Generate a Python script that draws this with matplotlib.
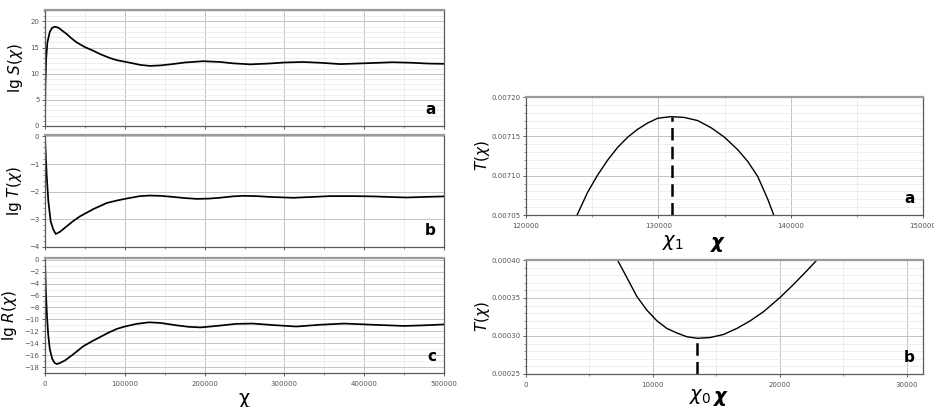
import numpy as np
import matplotlib.pyplot as plt
from matplotlib.ticker import MultipleLocator, FormatStrFormatter

# ---- data ----
chi_s = [0, 500, 1500, 3000, 6000, 9000, 12500, 17000, 22000, 27200, 33000, 39700,
         50000, 60500, 70000, 81500, 90000, 100000, 110000, 119000, 131600, 145000,
         160000, 175000, 198000, 220000, 235000, 257000, 280000, 300000, 323000,
         345000, 370000, 400000, 436000, 460000, 480000, 500000]
lg_s = [0, 8, 13, 16, 18.0, 18.8, 19.0, 18.8, 18.2, 17.6, 16.8, 16.0,
        15.1, 14.4, 13.7, 13.0, 12.6, 12.3, 12.0, 11.7, 11.5, 11.6,
        11.85, 12.15, 12.4, 12.25, 12.0, 11.8, 11.95, 12.15, 12.25,
        12.1, 11.85, 12.0, 12.2, 12.1, 11.95, 11.9]

chi_t = [0, 1000, 2100, 4200, 7100, 10400, 13500, 18800, 27200, 35000, 43900, 60500,
         77300, 90000, 100000, 119000, 131000, 145000, 160800, 175000, 190000, 205000,
         219000, 235000, 248500, 265000, 282000, 311000, 335000, 357000, 385000,
         411000, 430000, 453000, 475000, 500000]
lg_t = [0, -0.7, -1.4, -2.35, -3.07, -3.37, -3.53, -3.45, -3.25, -3.07, -2.89, -2.63,
        -2.41, -2.32, -2.26, -2.16, -2.14, -2.15, -2.19, -2.23, -2.26, -2.25,
        -2.22, -2.17, -2.15, -2.16, -2.19, -2.22, -2.19, -2.16, -2.16,
        -2.17, -2.19, -2.21, -2.19, -2.17]

chi_r = [0, 1000, 2500, 4000, 6000, 9000, 12000, 15000, 19000, 25000, 35000, 48000,
         60000, 70000, 80000, 90000, 100000, 115000, 130000, 145000, 165000, 180000,
         195000, 215000, 240000, 260000, 285000, 315000, 345000, 375000, 410000,
         450000, 475000, 500000]
lg_r = [0, -5, -9.5, -12.5, -15, -16.6, -17.3, -17.5, -17.3, -16.9, -15.9, -14.5,
        -13.6, -12.9, -12.2, -11.6, -11.2, -10.75, -10.5, -10.6, -11.0, -11.25,
        -11.35, -11.1, -10.75, -10.7, -10.95, -11.2, -10.9, -10.7, -10.9,
        -11.1, -11.0, -10.85]

# zoomed T near its maximum (chi_1)
chi_max = [123860, 124660, 125420, 126180, 126930, 127690, 128440, 129200, 129950,
           130960, 131970, 132980, 133980, 134990, 136000, 136760, 137510, 138270,
           138720]
t_max = [0.00705, 0.007079, 0.007101, 0.00712, 0.007136, 0.007149, 0.007159,
         0.007167, 0.007173, 0.007175, 0.007174, 0.00717, 0.007161, 0.007149,
         0.007133, 0.007118, 0.007099, 0.00707, 0.00705]
chi_1 = 131040
t_1 = 0.007175

# zoomed T near its minimum (chi_0)
chi_min = [7210, 7950, 8740, 9530, 10320, 11100, 11890, 12680, 13520, 14520, 15570,
           16630, 17680, 18730, 20050, 21100, 22150, 22940]
t_min = [0.0004, 0.000377, 0.000352, 0.000334, 0.00032, 0.00031, 0.000304,
         0.000299, 0.000297, 0.000298, 0.000302, 0.00031, 0.00032, 0.000332,
         0.000351, 0.000368, 0.000386, 0.0004]
chi_0 = 13520
t_0 = 0.000297

W, H = 934, 407
MAJ = "#c4c4c4"
MIN = "#e8e8e8"
SPINE = "#5a5a5a"


def px_axes(fig, left, top, right, bottom):
    return fig.add_axes([left / W, 1 - bottom / H, (right - left) / W, (bottom - top) / H])


def style(ax, xmaj, xmin, ymaj, ymin):
    ax.xaxis.set_major_locator(MultipleLocator(xmaj))
    ax.xaxis.set_minor_locator(MultipleLocator(xmin))
    ax.yaxis.set_major_locator(MultipleLocator(ymaj))
    ax.yaxis.set_minor_locator(MultipleLocator(ymin))
    ax.grid(which="major", color=MAJ, lw=0.7)
    ax.grid(which="minor", color=MIN, lw=0.5)
    ax.set_axisbelow(True)
    ax.tick_params(which="both", direction="out", labelsize=5, colors="#444444",
                   labelcolor="#555555", pad=1.5)
    ax.tick_params(which="major", length=2.5, width=0.6)
    ax.tick_params(which="minor", length=1.5, width=0.4)
    ax.tick_params(axis="x", which="major", pad=3)
    for s in ax.spines.values():
        s.set_color(SPINE)
        s.set_linewidth(0.9)
    ax.spines["top"].set_color("#9a9a9a")
    ax.spines["top"].set_linewidth(1.6)


fig = plt.figure(figsize=(W / 100, H / 100), dpi=100)

# ---- left column: lg S, lg T, lg R ----
ax_s = px_axes(fig, 45, 10, 444, 126)
ax_t = px_axes(fig, 45, 135, 444, 247)
ax_r = px_axes(fig, 45, 258, 444, 373)

panels = [
    (ax_s, chi_s, lg_s, (0, 22.2), 5, 1, r"lg $S(\chi)$", "a"),
    (ax_t, chi_t, lg_t, (-4, 0.05), 1, 0.2, r"lg $T(\chi)$", "b"),
    (ax_r, chi_r, lg_r, (-19, 0.3), 2, 1, r"lg $R(\chi)$", "c"),
]
for ax, x, y, ylim, ymaj, ymin, lab, letter in panels:
    ax.plot(x, y, color="black", lw=1.25, solid_joinstyle="round")
    ax.set_xlim(0, 500000)
    ax.set_ylim(*ylim)
    style(ax, 100000, 50000, ymaj, ymin)
    ax.set_ylabel(lab, fontsize=11, labelpad=4)
    ax.text(0.98, 0.08, letter, transform=ax.transAxes, fontsize=11,
            fontweight="bold", ha="right", va="bottom")
    if ax is not ax_r:
        ax.tick_params(axis="x", labelbottom=False)
ax_t.grid(which="minor", axis="y", visible=False)
ax_r.set_xlabel("χ", fontsize=14, labelpad=2)

# ---- right top: T near chi_1 ----
ax_a = px_axes(fig, 526, 97, 923, 215)
ax_a.plot(chi_max, t_max, color="black", lw=1.0)
ax_a.plot([chi_1, chi_1], [0.00705, t_1], color="black", lw=1.8, dashes=(5, 2.5))
ax_a.set_xlim(120000, 150000)
ax_a.set_ylim(0.00705, 0.0072)
style(ax_a, 10000, 5000, 0.00005, 0.00001)
ax_a.yaxis.set_major_formatter(FormatStrFormatter("%.5f"))
ax_a.set_ylabel(r"$T(\chi)$", fontsize=11)
ax_a.yaxis.set_label_coords(-0.085, 0.5)
ax_a.text(0.98, 0.08, "a", transform=ax_a.transAxes, fontsize=11,
          fontweight="bold", ha="right", va="bottom")
fig.text(673 / W, 1 - 242 / H, r"$\chi_1$", fontsize=14, ha="center", va="center")
fig.text(717 / W, 1 - 242 / H, "χ", fontsize=14, style="italic", fontweight="bold",
         ha="center", va="center")

# ---- right bottom: T near chi_0 ----
ax_b = px_axes(fig, 526, 260, 923, 374)
ax_b.plot(chi_min, t_min, color="black", lw=1.0)
ax_b.plot([chi_0, chi_0], [0.00025, t_0], color="black", lw=1.8, dashes=(5, 2.5))
ax_b.set_xlim(0, 31300)
ax_b.set_ylim(0.00025, 0.0004)
style(ax_b, 10000, 5000, 0.00005, 0.00001)
ax_b.yaxis.set_major_formatter(FormatStrFormatter("%.5f"))
ax_b.set_ylabel(r"$T(\chi)$", fontsize=11)
ax_b.yaxis.set_label_coords(-0.085, 0.5)
ax_b.text(0.98, 0.08, "b", transform=ax_b.transAxes, fontsize=11,
          fontweight="bold", ha="right", va="bottom")
fig.text(700 / W, 1 - 396 / H, r"$\chi_0$", fontsize=14, ha="center", va="center")
fig.text(720 / W, 1 - 396 / H, "χ", fontsize=14, style="italic", fontweight="bold",
         ha="center", va="center")

fig.savefig("out.png", dpi=100, facecolor="white")
